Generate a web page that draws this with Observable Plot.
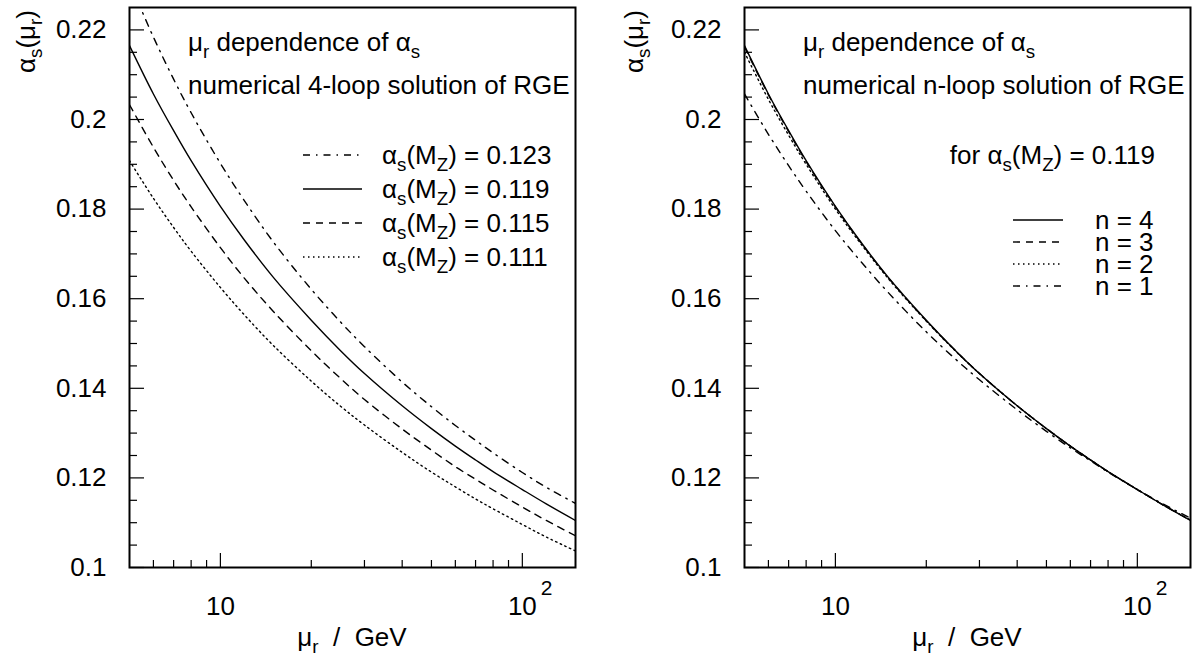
<!DOCTYPE html>
<html>
<head>
<meta charset="utf-8">
<script src="https://cdn.jsdelivr.net/npm/d3@7"></script>
<script src="https://cdn.jsdelivr.net/npm/@observablehq/plot@0.6"></script>
<style>
html, body { margin: 0; padding: 0; background: #fff; }
#wrap { display: flex; width: 1193px; height: 657px; overflow: hidden; }
</style>
</head>
<body>
<div id="wrap"></div>
<script>
// ---------- data ----------
const muGeV = [5, 6, 7, 8, 10, 12, 15, 20, 25, 30, 40, 50, 60, 70, 80, 100, 120, 150];

// left panel: 4-loop running for several alpha_s(M_Z)
const alphaMZ = [0.123, 0.119, 0.115, 0.111];
const as_0123 = [0.2307, 0.2184, 0.2090, 0.2015, 0.1902, 0.1819, 0.1726, 0.1621, 0.1548, 0.1493, 0.1414, 0.1359, 0.1317, 0.1284, 0.1256, 0.1212, 0.1179, 0.1143];
const as_0119 = [0.2165, 0.2057, 0.1975, 0.1908, 0.1806, 0.1731, 0.1647, 0.1552, 0.1484, 0.1433, 0.1361, 0.1310, 0.1271, 0.1240, 0.1214, 0.1174, 0.1142, 0.1105];
const as_0115 = [0.2033, 0.1938, 0.1864, 0.1805, 0.1714, 0.1646, 0.1571, 0.1484, 0.1422, 0.1375, 0.1309, 0.1262, 0.1225, 0.1197, 0.1173, 0.1135, 0.1105, 0.1071];
const as_0111 = [0.1908, 0.1824, 0.1759, 0.1706, 0.1625, 0.1564, 0.1495, 0.1416, 0.1360, 0.1318, 0.1257, 0.1213, 0.1180, 0.1153, 0.1131, 0.1096, 0.1068, 0.1037];

// right panel: n-loop running for alpha_s(M_Z) = 0.119
const loopOrder = [4, 3, 2, 1];
const asLoop4 = [0.2165, 0.2057, 0.1975, 0.1908, 0.1806, 0.1731, 0.1647, 0.1552, 0.1484, 0.1433, 0.1361, 0.1310, 0.1271, 0.1240, 0.1214, 0.1174, 0.1142, 0.1105];
const asLoop3 = [0.2162, 0.2055, 0.1973, 0.1906, 0.1805, 0.1730, 0.1646, 0.1551, 0.1484, 0.1433, 0.1361, 0.1310, 0.1271, 0.1240, 0.1214, 0.1174, 0.1142, 0.1105];
const asLoop2 = [0.2150, 0.2045, 0.1965, 0.1900, 0.1800, 0.1727, 0.1644, 0.1550, 0.1483, 0.1433, 0.1361, 0.1310, 0.1271, 0.1240, 0.1214, 0.1174, 0.1142, 0.1106];
const asLoop1 = [0.2057, 0.1967, 0.1897, 0.1840, 0.1752, 0.1687, 0.1613, 0.1526, 0.1465, 0.1419, 0.1352, 0.1304, 0.1267, 0.1238, 0.1213, 0.1174, 0.1144, 0.1110];

// axes
const xDomain = [5, 150];
const yDomain = [0.1, 0.225];
const xMajorTicks = [10, 100];
const xMinorTicks = [6, 7, 8, 9, 20, 30, 40, 50, 60, 70, 80, 90];
const xTickLabels = ["10", "10^2"];
const yMajorTicks = [0.1, 0.12, 0.14, 0.16, 0.18, 0.2, 0.22];
const yMinorTicks = [0.105, 0.11, 0.115, 0.125, 0.13, 0.135, 0.145, 0.15, 0.155, 0.165, 0.17, 0.175, 0.185, 0.19, 0.195, 0.205, 0.21, 0.215];
const xTitle = "μ_r\u00a0\u00a0/\u00a0\u00a0GeV";
const yTitle = "α_s(μ_r)";

// ---------- styles ----------
const FONT = "'Liberation Sans', Arial, Helvetica, sans-serif";
const FS = 26;
const H = 657, MT = 7, MB = 90;
const DASH_DOT = "7,6,1.5,6";
const DASHED = "7,6";
const DOTTED = "1.5,3.5";
const SOLID = null;

function table(ys) { return muGeV.map((m, i) => ({mu: m, as: ys[i]})); }

// simple rich text: _x / _{..} subscripts, ^x superscripts
function rich(textSel, str, size) {
  const re = /([_^])(\{[^}]*\}|.)/g;
  let last = 0, m;
  const parts = [];
  while ((m = re.exec(str))) {
    if (m.index > last) parts.push({t: str.slice(last, m.index), k: 0});
    let t = m[2]; if (t[0] === "{") t = t.slice(1, -1);
    parts.push({t, k: m[1] === "_" ? 1 : -1});
    last = re.lastIndex;
  }
  if (last < str.length) parts.push({t: str.slice(last), k: 0});
  let cur = 0;
  for (const p of parts) {
    const target = p.k === 1 ? size * 0.28 : p.k === -1 ? -size * 0.42 : 0;
    textSel.append("tspan").attr("dy", target - cur).attr("font-size", p.k ? size * 0.72 : size).text(p.t);
    cur = target;
  }
}

function panel(cfg) {
  const {width, marginLeft, marginRight, series, lines, legend, ytitleX} = cfg;
  const frameW = width - marginLeft - marginRight;
  const frameH = H - MT - MB;
  const annot = (index, scales, values, dims) => {
    const g = d3.create("svg:g").attr("font-family", FONT).attr("fill", "black")
      .attr("text-anchor", "start").attr("font-size", FS);
    const x0 = dims.marginLeft, y0 = dims.marginTop, yb = dims.height - dims.marginBottom;
    // superscript of 10^2
    g.append("text").attr("x", scales.x(100) + 19).attr("y", yb + 28)
      .attr("font-size", 21).text(xTickLabels[1].split("^")[1]);
    // x title
    const xt = g.append("text").attr("x", x0 + frameW / 2).attr("y", 646).attr("text-anchor", "middle");
    rich(xt, xTitle, FS);
    // y title
    const yt = g.append("text").attr("transform", `translate(${ytitleX},10) rotate(-90)`)
      .attr("text-anchor", "end");
    rich(yt, yTitle, FS);
    // text lines inside the frame
    for (const l of lines) {
      const t = g.append("text").attr("x", x0 + l.x).attr("y", y0 + l.y)
        .attr("text-anchor", l.anchor || "start");
      rich(t, l.text, FS);
    }
    // legend
    for (const r of legend.rows) {
      const ly = y0 + r.y;
      g.append("line").attr("x1", x0 + legend.x1).attr("x2", x0 + legend.x2)
        .attr("y1", ly).attr("y2", ly).attr("stroke", "black").attr("stroke-width", 1.4)
        .attr("stroke-dasharray", r.dash);
      const t = g.append("text").attr("x", x0 + legend.tx).attr("y", ly + 9).attr("text-anchor", "start");
      rich(t, r.label, FS);
    }
    return g.node();
  };
  return Plot.plot({
    width, height: H,
    marginTop: MT, marginBottom: MB, marginLeft, marginRight,
    x: {type: "log", domain: xDomain, label: null},
    y: {domain: yDomain, label: null},
    style: {fontFamily: FONT, fontSize: FS + "px", background: "white", color: "black", overflow: "visible"},
    marks: [
      Plot.tickX(xMinorTicks, {x: d => d, insetTop: frameH - 7, strokeWidth: 1.2}),
      Plot.tickX(xMajorTicks, {x: d => d, insetTop: frameH - 14, strokeWidth: 1.2}),
      Plot.tickY(yMinorTicks, {y: d => d, insetRight: frameW - 8, strokeWidth: 1.2}),
      Plot.tickY(yMajorTicks, {y: d => d, insetRight: frameW - 15, strokeWidth: 1.2}),
      Plot.axisY({ticks: yMajorTicks, tickSize: 0, tickPadding: 23, label: null,
        tickFormat: d => String(+d.toFixed(3))}),
      Plot.axisX({ticks: xMajorTicks, tickSize: 0, tickPadding: 29, label: null,
        tickFormat: d => xTickLabels[xMajorTicks.indexOf(d)].split("^")[0]}),
      ...series.map(s => Plot.line(s.data, {x: "mu", y: "as", curve: "catmull-rom",
        stroke: "black", strokeWidth: 1.4, strokeDasharray: s.dash, clip: true})),
      Plot.frame({stroke: "black", strokeWidth: 2}),
      annot
    ]
  });
}

const leftSeries = [as_0123, as_0119, as_0115, as_0111];
const leftDash = [DASH_DOT, SOLID, DASHED, DOTTED];
const rightSeries = [asLoop4, asLoop3, asLoop2, asLoop1];
const rightDash = [SOLID, DASHED, DOTTED, DASH_DOT];

const left = panel({
  width: 615, marginLeft: 129, marginRight: 40, ytitleX: 35,
  series: leftSeries.map((ys, i) => ({data: table(ys), dash: leftDash[i]})),
  lines: [
    {x: 59, y: 44, text: "μ_r dependence of α_s"},
    {x: 59, y: 87, text: "numerical 4-loop solution of RGE"}
  ],
  legend: {x1: 174, x2: 233, tx: 253,
    rows: alphaMZ.map((a, i) => ({y: 148 + 34 * i, dash: leftDash[i], label: `α_s(M_Z) = ${a.toFixed(3)}`}))}
});

const right = panel({
  width: 578, marginLeft: 129, marginRight: 3, ytitleX: 28,
  series: rightSeries.map((ys, i) => ({data: table(ys), dash: rightDash[i]})),
  lines: [
    {x: 59, y: 44, text: "μ_r dependence of α_s"},
    {x: 59, y: 87, text: "numerical n-loop solution of RGE"},
    {x: 411, y: 157, text: "for α_s(M_Z) = 0.119", anchor: "end"}
  ],
  legend: {x1: 269, x2: 319, tx: 351,
    rows: loopOrder.map((n, i) => ({y: 213 + 22 * i, dash: rightDash[i], label: `n = ${n}`}))}
});

document.getElementById("wrap").append(left, right);
</script>
</body>
</html>
